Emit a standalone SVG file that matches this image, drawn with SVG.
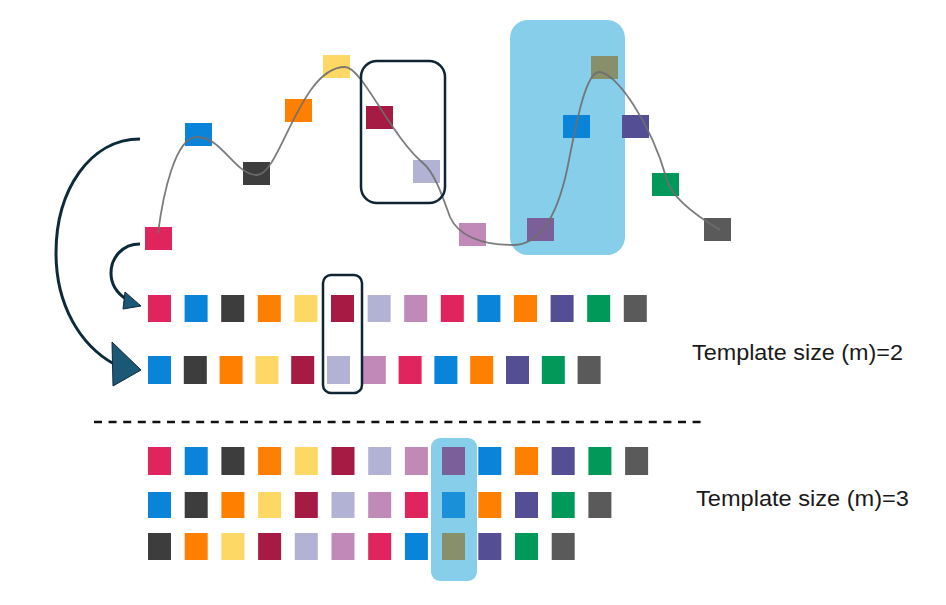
<svg xmlns="http://www.w3.org/2000/svg" width="946" height="605" viewBox="0 0 946 605">
<style>
.pk{fill:#e0245e}.bl{fill:#0a84d8}.bl2{fill:#1a90d8}.dk{fill:#3d3d3d}.or{fill:#ff8000}.ye{fill:#fdd865}.cr{fill:#a51b44}.lv{fill:#b2b2d5}.mv{fill:#c089b8}.pu{fill:#7a5f98}.ol{fill:#87906b}.nv{fill:#544e94}.gr{fill:#00995a}.gy{fill:#5a5a5a}
.hl{fill:#87ceeb}
.box{fill:none;stroke:#0f2535;stroke-width:2.5}
.curve{fill:none;stroke:#6e6e6e;stroke-width:1.8;stroke-opacity:0.9}
.arc{fill:none;stroke:#0d2a3a;stroke-width:3}
.head{fill:#1a5876;stroke:#0d2a3a;stroke-width:1}
.lbl{font-family:"Liberation Sans",Arial,sans-serif;font-size:22px;fill:#1a1a1a}
</style>
<rect width="946" height="605" fill="#ffffff"/>

<g id="top-highlight"><rect class="hl" x="510" y="20" width="115" height="235" rx="18"/></g>

<g id="series">
<rect class="pk" x="145" y="227" width="27" height="23"/>
<rect class="bl" x="185" y="123" width="27" height="23"/>
<rect class="dk" x="243" y="162" width="27" height="23"/>
<rect class="or" x="285" y="99" width="27" height="23"/>
<rect class="ye" x="323" y="55" width="27" height="23"/>
<rect class="cr" x="366" y="106" width="27" height="23"/>
<rect class="lv" x="413" y="160" width="27" height="23"/>
<rect class="mv" x="459" y="223" width="27" height="23"/>
<rect class="pu" x="527" y="218" width="27" height="23"/>
<rect class="bl" x="563" y="115" width="27" height="23"/>
<rect class="ol" x="591" y="56" width="27" height="23"/>
<rect class="nv" x="622" y="115" width="27" height="23"/>
<rect class="gr" x="652" y="173" width="27" height="23"/>
<rect class="gy" x="704" y="218" width="27" height="23"/>
</g>

<g id="signal-curve">
<path class="curve" d="M158,233 C163,195 175,137 197,137 C222,137 235,175 257,175 C280,175 300,67 345,67 C362,67 390,135 423,163 C435,173 443,198 450,217 C458,235 480,245 513,245 C535,245 555,225 567,170 C575,130 585,72 599,72 C615,72 650,120 667,180 C672,198 695,215 720,230"/>
</g>

<g id="top-template-box"><rect class="box" x="361" y="61" width="84" height="142" rx="16"/></g>

<g id="row1">
<rect class="pk" x="148" y="295" width="23" height="27"/>
<rect class="bl" x="184.6" y="295" width="23" height="27"/>
<rect class="dk" x="221.2" y="295" width="23" height="27"/>
<rect class="or" x="257.8" y="295" width="23" height="27"/>
<rect class="ye" x="294.4" y="295" width="23" height="27"/>
<rect class="cr" x="331" y="295" width="23" height="27"/>
<rect class="lv" x="367.6" y="295" width="23" height="27"/>
<rect class="mv" x="404.2" y="295" width="23" height="27"/>
<rect class="pk" x="440.8" y="295" width="23" height="27"/>
<rect class="bl" x="477.4" y="295" width="23" height="27"/>
<rect class="or" x="514" y="295" width="23" height="27"/>
<rect class="nv" x="550.6" y="295" width="23" height="27"/>
<rect class="gr" x="587.2" y="295" width="23" height="27"/>
<rect class="gy" x="623.8" y="295" width="23" height="27"/>
</g>

<g id="row2">
<rect class="bl" x="148" y="356" width="23" height="28"/>
<rect class="dk" x="183.8" y="356" width="23" height="28"/>
<rect class="or" x="219.6" y="356" width="23" height="28"/>
<rect class="ye" x="255.4" y="356" width="23" height="28"/>
<rect class="cr" x="291.2" y="356" width="23" height="28"/>
<rect class="lv" x="327" y="356" width="23" height="28"/>
<rect class="mv" x="362.8" y="356" width="23" height="28"/>
<rect class="pk" x="398.6" y="356" width="23" height="28"/>
<rect class="bl" x="434.4" y="356" width="23" height="28"/>
<rect class="or" x="470.2" y="356" width="23" height="28"/>
<rect class="nv" x="506" y="356" width="23" height="28"/>
<rect class="gr" x="541.8" y="356" width="23" height="28"/>
<rect class="gy" x="577.6" y="356" width="23" height="28"/>
</g>

<g id="m2-box"><rect class="box" x="323" y="275" width="39" height="118" rx="8"/></g>

<g id="separator"><line x1="94" y1="422" x2="702" y2="422" stroke="#111" stroke-width="2.5" stroke-dasharray="8 6.6"/></g>

<g id="m3-highlight"><rect class="hl" x="431" y="438" width="46" height="143" rx="9"/></g>

<g id="rowA">
<rect class="pk" x="148" y="447" width="23" height="28"/>
<rect class="bl" x="184.7" y="447" width="23" height="28"/>
<rect class="dk" x="221.4" y="447" width="23" height="28"/>
<rect class="or" x="258.1" y="447" width="23" height="28"/>
<rect class="ye" x="294.8" y="447" width="23" height="28"/>
<rect class="cr" x="331.5" y="447" width="23" height="28"/>
<rect class="lv" x="368.2" y="447" width="23" height="28"/>
<rect class="mv" x="404.9" y="447" width="23" height="28"/>
<rect class="pu" x="442" y="447" width="23" height="28"/>
<rect class="bl" x="478.3" y="447" width="23" height="28"/>
<rect class="or" x="515" y="447" width="23" height="28"/>
<rect class="nv" x="551.7" y="447" width="23" height="28"/>
<rect class="gr" x="588.4" y="447" width="23" height="28"/>
<rect class="gy" x="625.1" y="447" width="23" height="28"/>
</g>

<g id="rowB">
<rect class="bl" x="148" y="492" width="23" height="26"/>
<rect class="dk" x="184.7" y="492" width="23" height="26"/>
<rect class="or" x="221.4" y="492" width="23" height="26"/>
<rect class="ye" x="258.1" y="492" width="23" height="26"/>
<rect class="cr" x="294.8" y="492" width="23" height="26"/>
<rect class="lv" x="331.5" y="492" width="23" height="26"/>
<rect class="mv" x="368.2" y="492" width="23" height="26"/>
<rect class="pk" x="404.9" y="492" width="23" height="26"/>
<rect class="bl2" x="442" y="492" width="23" height="26"/>
<rect class="or" x="478.3" y="492" width="23" height="26"/>
<rect class="nv" x="515" y="492" width="23" height="26"/>
<rect class="gr" x="551.7" y="492" width="23" height="26"/>
<rect class="gy" x="588.4" y="492" width="23" height="26"/>
</g>

<g id="rowC">
<rect class="dk" x="148" y="533" width="23" height="27"/>
<rect class="or" x="184.7" y="533" width="23" height="27"/>
<rect class="ye" x="221.4" y="533" width="23" height="27"/>
<rect class="cr" x="258.1" y="533" width="23" height="27"/>
<rect class="lv" x="294.8" y="533" width="23" height="27"/>
<rect class="mv" x="331.5" y="533" width="23" height="27"/>
<rect class="pk" x="368.2" y="533" width="23" height="27"/>
<rect class="bl" x="404.9" y="533" width="23" height="27"/>
<rect class="ol" x="442" y="533" width="23" height="27"/>
<rect class="nv" x="478.3" y="533" width="23" height="27"/>
<rect class="gr" x="515" y="533" width="23" height="27"/>
<rect class="gy" x="551.7" y="533" width="23" height="27"/>
</g>

<g id="connectors">
<path class="arc" d="M140,139 C90,139 56,190 56,253 C56,305 80,345 114,364"/>
<polygon class="head" points="112,342 141,370 113,386"/>
<path class="arc" d="M140,244 C122,244 111,258 111,273 C111,285 117,293 126,299"/>
<polygon class="head" points="125,292 141,306 123,309"/>
</g>

<g id="labels">
<text class="lbl" x="692" y="360" textLength="211" lengthAdjust="spacingAndGlyphs">Template size (m)=2</text>
<text class="lbl" x="696" y="506" textLength="213" lengthAdjust="spacingAndGlyphs">Template size (m)=3</text>
</g>
</svg>
